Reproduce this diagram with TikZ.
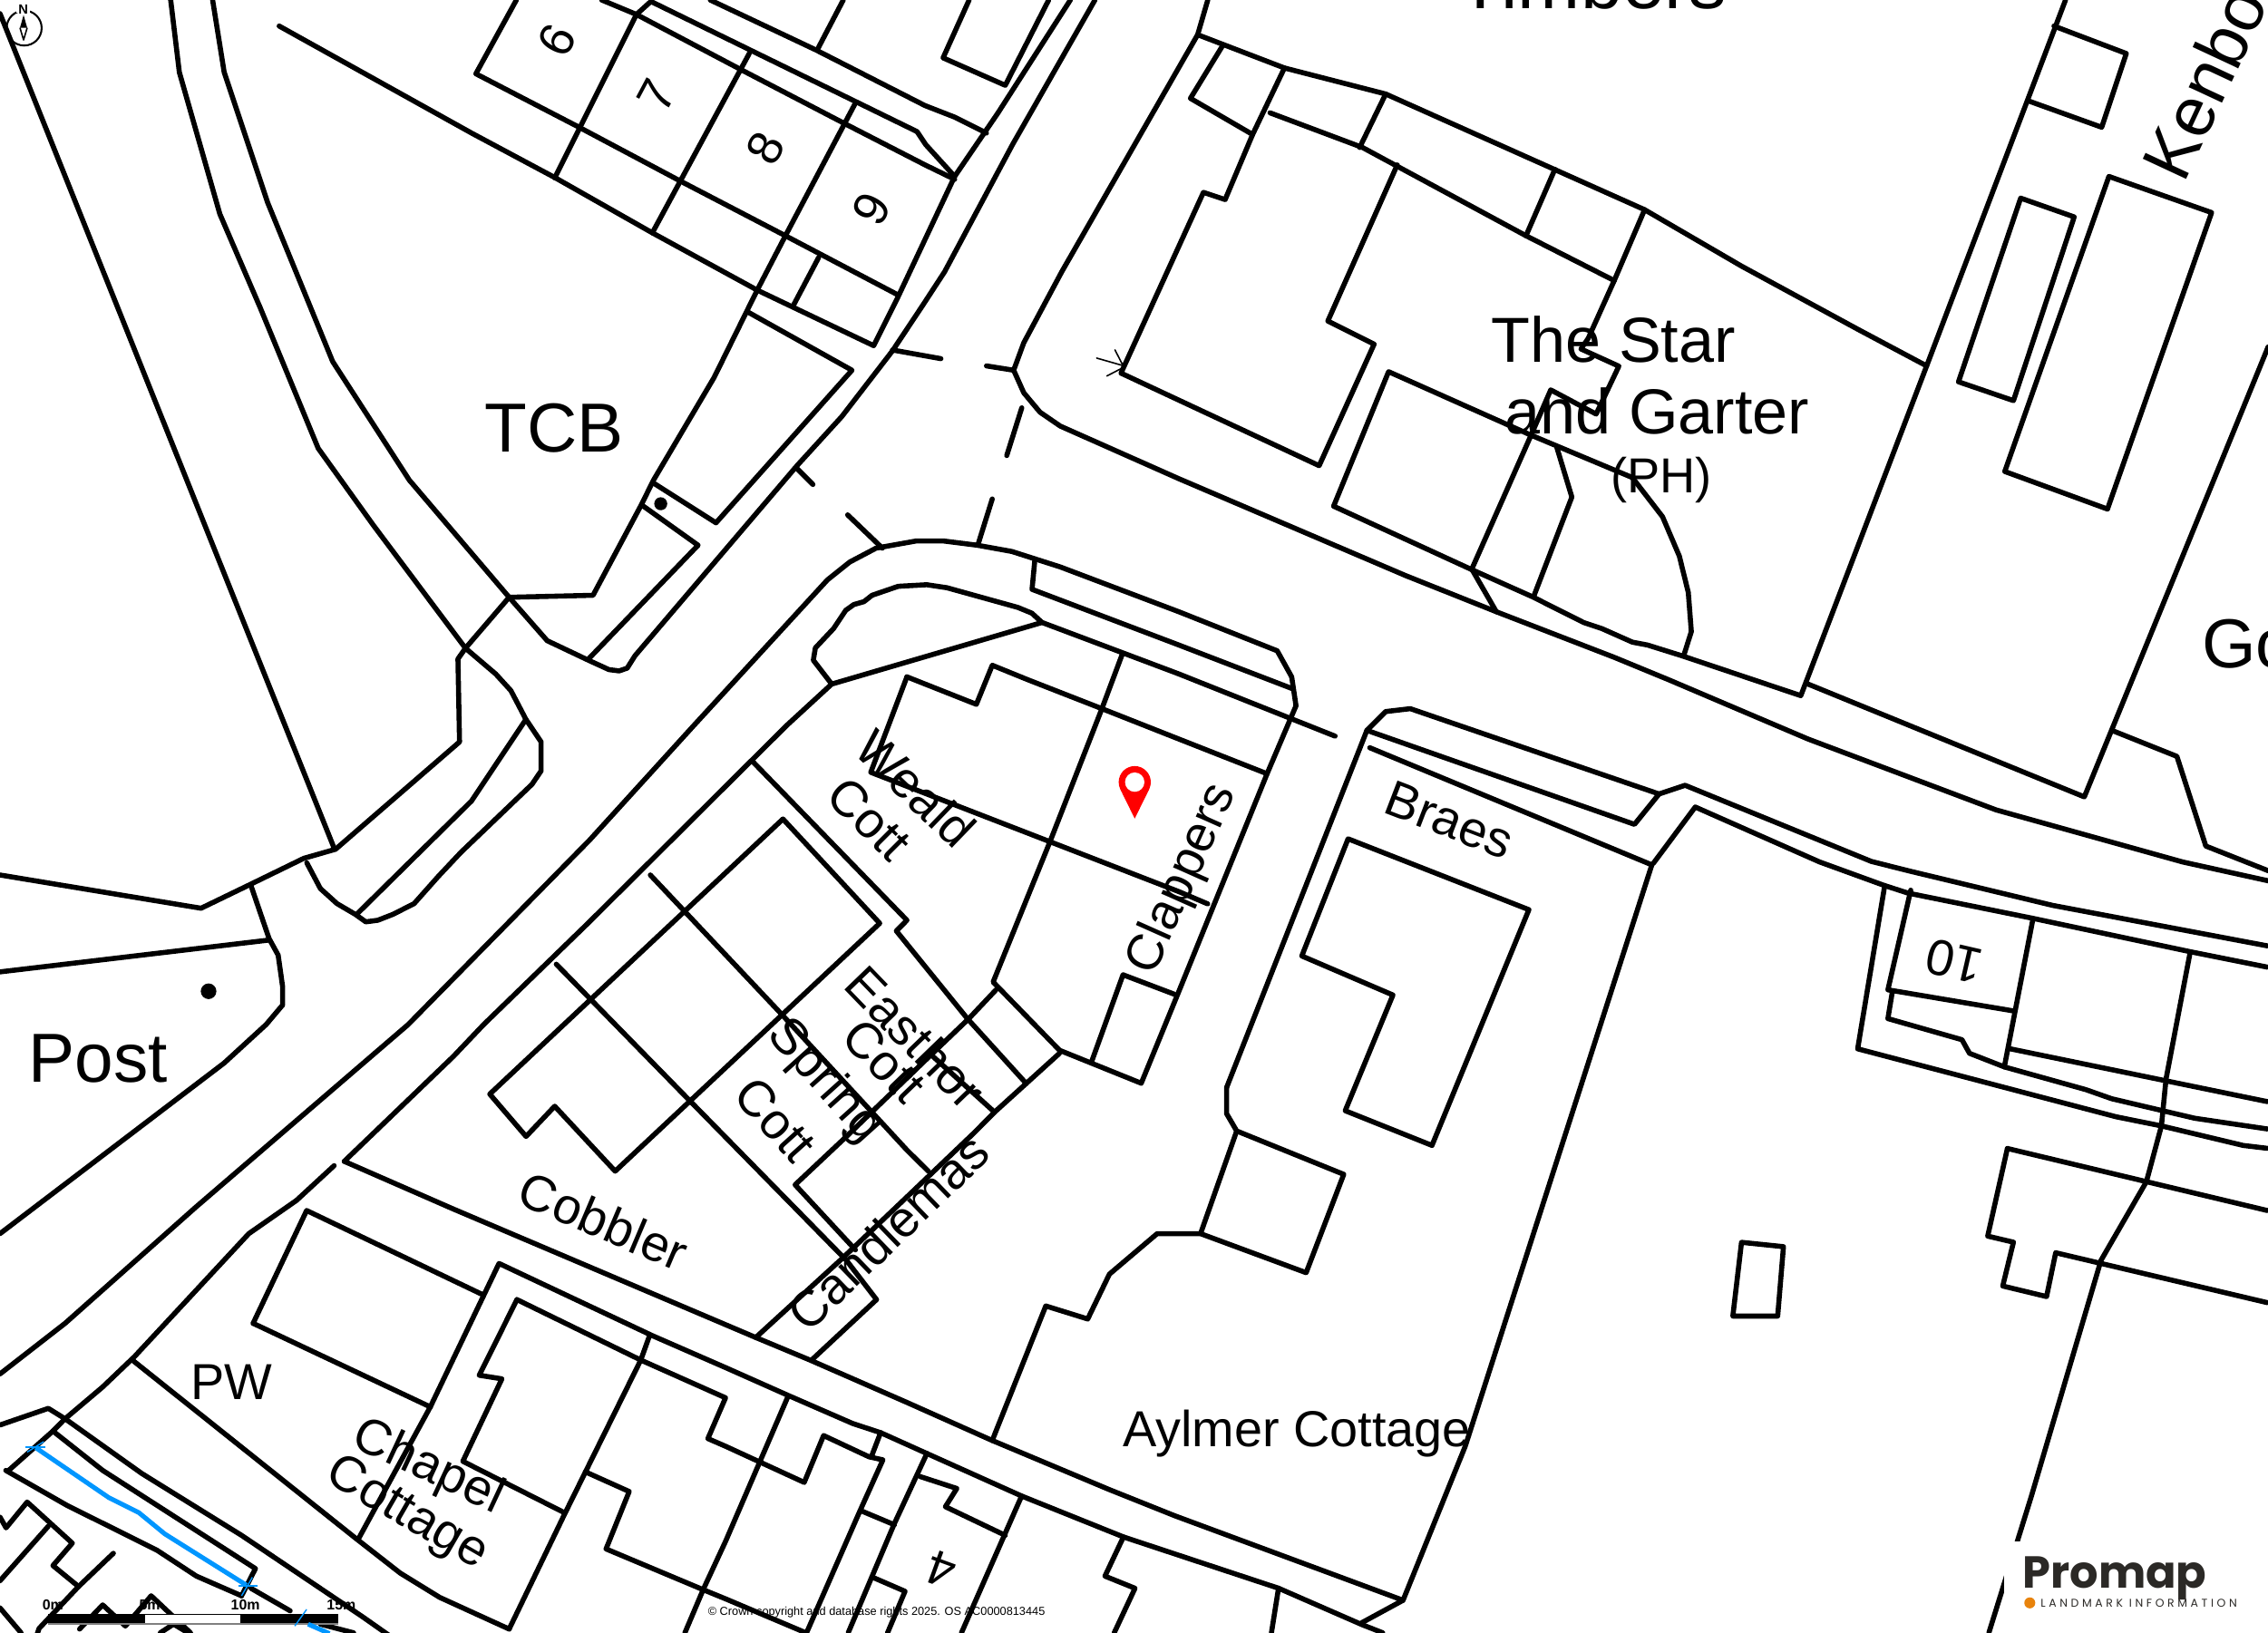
\documentclass[tikz,border=0pt]{standalone}
\usepackage{fontspec}
\setmainfont{Liberation Sans}
\newfontfamily\popfont{Poppins}
\newfontfamily\popspaced{Poppins}[LetterSpace=29]
\definecolor{waterblue}{HTML}{0096FF}
\definecolor{pinred}{HTML}{FF0000}
\definecolor{logoink}{HTML}{2B2926}
\definecolor{logoorange}{HTML}{E8830C}
\newcommand{\fsz}[1]{\fontsize{#1}{#1}\selectfont}
\tikzset{
  plan/.style={draw=black,line width=1.75pt,line join=round,line cap=round},
  thinplan/.style={draw=black,line width=0.5pt,line cap=round},
  water/.style={draw=waterblue,line width=1.6pt,line join=round},
  watertick/.style={draw=waterblue,line width=0.45pt},
  big/.style={inner sep=0pt,font=\fsz{24}},
  lab/.style={inner sep=0pt,font=\fsz{17.5}},
  num/.style={inner sep=0pt,font=\fsz{17}},
  scalelab/.style={inner sep=0pt,font=\bfseries\fsz{5}},
}
\begin{document}
\begin{tikzpicture}[x=0.5pt,y=-0.5pt]
\useasboundingbox (0,0) rectangle (1568,1129.1);
\clip (0,0) rectangle (1568,1129.1);
\fill[white] (0,0) rectangle (1568,1129.1);

% copyright sits under the plan lines
\node[inner sep=0pt,font=\fsz{4}] (copy) at (606,1115) {© Crown copyright and database rights 2025. OS AC0000813445};

% ---------- north-west: plots 6-9 ----------
\path[plan] (357,0) -- (329,51) -- (400.4,88) -- (470,125) -- (543,163) -- (621,204);
\path[plan] (383.5,123) -- (440,10) -- (450,1) -- (634,91) -- (640,100) -- (660,122);
\path[plan] (416,0) -- (440,10) -- (512,48) -- (585,86) -- (639.5,114) -- (660,124);
\path[plan] (518,37) -- (451,161);
\path[plan] (591,72) -- (543,163) -- (523.5,200.6) -- (493.7,261) -- (451.8,332) -- (443.4,349) -- (410,411.6) -- (352,413);
\path[plan] (193,18) -- (326,92) -- (384,123) -- (451,161) -- (523.5,200.6) -- (604,239) -- (621,205) -- (660,122) -- (690,78) -- (740,0);
\path[plan] (566,178) -- (548.6,211);
\path[plan] (517.5,216) -- (589,256) -- (495,361.5) -- (451.8,334);
\path[plan] (491,0) -- (564,34.5) -- (639.5,73) -- (660,81) -- (682,92);
\path[plan] (583,0) -- (565,34.5);
\path[plan] (670,0) -- (652,40) -- (695,59) -- (725,0);
% road edge to the crossing
\path[plan] (757,0) -- (700,100) -- (653,188) -- (638,211) -- (617,242.6) -- (582,288) -- (551,322) -- (439,453.4) -- (433.6,462) -- (428,463.9) -- (421,463) -- (407,456.6) -- (378.3,443) -- (352,413);
\path[plan] (444.8,350) -- (482.6,377) -- (407,455.5);
\fill (456.8,348.3) circle (4.5);
% crossing dashes
\path[plan] (617,242) -- (650.5,248);
\path[plan] (682,253) -- (700.8,256);
\path[plan] (706.4,282) -- (696,315);
\path[plan] (686,345) -- (676,377);
\path[plan] (551,324) -- (562,335);
\path[plan] (586,356) -- (610,379);

% ---------- west ----------
\path[plan] (0,9.4) -- (230.9,586.2);
\path[plan] (118,0) -- (124,50) -- (152,148) -- (180,213) -- (220,310) -- (258,363) -- (321.8,448.2);
\path[plan] (147,0) -- (155,50) -- (185,140) -- (230,250) -- (283,332) -- (352,413);
\path[plan] (0,605) -- (139,628) -- (173.5,611.3) -- (210,593.5) -- (232,587.2) -- (317.7,513) -- (316.6,455.6) -- (321.8,448.2) -- (352,413);
\path[plan] (321.8,448.2) -- (342.7,466) -- (353.2,477.5) -- (363.6,497.4) -- (374.1,513) -- (374.1,533) -- (367.8,542.3) -- (318.7,589.3) -- (303,606) -- (286.3,624.8) -- (271.7,632.2) -- (261.2,636.3) -- (252.9,637.4) -- (245.6,632.2) -- (233,624.8) -- (221.5,614.4) -- (212.1,596.6);
\path[plan] (363.6,497.4) -- (326,553.8) -- (246.6,632.2);
\path[plan] (173.5,612.3) -- (186,648.9) -- (192.3,660.4) -- (195.4,682.3) -- (195.4,694.9) -- (184,708.4) -- (155,735) -- (0,853);
\path[plan] (0,672) -- (186,650);
\fill (144.2,685.4) circle (5.4);

% ---------- main road south of crossing ----------
\path[plan] (0,950) -- (45,915) -- (135,835) -- (282.2,708.4) -- (407.5,581) -- (479.8,501.5) -- (572,401) -- (587.5,388.6) -- (605.7,379) -- (633.7,374) -- (651.9,374) -- (675.7,377) -- (699.5,381.3) -- (733,392) -- (815,423) -- (883,450) -- (893,468) -- (896,488) -- (876,535) -- (815,685.5) -- (789,749) -- (732.5,726.2) -- (686.6,679) -- (726.3,581) -- (761.8,490) -- (776,452);
\path[plan] (715.4,387.6) -- (713.5,407.5) -- (815,446) -- (893,476);
\path[plan] (238,803) -- (313.5,730.4) -- (334.4,708.4) -- (407.5,637.4) -- (544,501.5) -- (575,473) -- (720.4,430.4) -- (815,466) -- (923,509);
\path[plan] (575,473) -- (562.3,456.5) -- (563.7,448) -- (576.3,434.6) -- (584.7,422) -- (590.3,418) -- (597.3,416) -- (602.9,411.6) -- (621,405.4) -- (640.7,404.3) -- (654.7,406.4) -- (703.7,420) -- (713.4,424) -- (720.4,430.4);
\path[plan] (231,806) -- (205,830) -- (172,853) -- (93,938) -- (71,959) -- (45,981) -- (36.6,989.5) -- (6,1016.7);

% ---------- central plots ----------
\path[plan] (627,468) -- (602,534) -- (815,616.5) -- (835,625);
\path[plan] (627,468) -- (675,487) -- (686,460) -- (710.6,470) -- (761.8,490) -- (815,511) -- (876,535);
\path[plan] (754.5,734.6) -- (776.4,674) -- (812,687.5);
\path[plan] (520.4,526.6) -- (627,636.3) -- (619.7,643.7) -- (668.8,704.3) -- (709.5,749.2);
\path[plan] (688.6,684.4) -- (669.8,704.3) -- (643.7,729.3) -- (585.2,785.8) -- (549.7,819.2) -- (591.4,864.2);
\path[plan] (732.5,728.3) -- (687.6,769) -- (673,783.7) -- (627,827.6) -- (582,870.4) -- (522.5,924.8);
\path[plan] (643.7,729.3) -- (687.6,769);
\path[plan] (449.6,605) -- (540.2,701.1) -- (627,795.2) -- (642,810);
\path[plan] (338.6,756.5) -- (541.3,566.3) -- (608.2,638.4) -- (425.3,809.8) -- (383.5,764.9) -- (363.7,785.8) -- cycle;
\path[plan] (384.6,666.7) -- (476.5,760.7) -- (585.2,871.5) -- (606,898.6) -- (561.1,940.4);

% ---------- Braes and Aylmer Cottage ----------
\path[plan] (947,517) -- (1142,598);
\path[plan] (848,752) -- (945,505) -- (1130,570) -- (1147,549) -- (1165,543) -- (1293.7,595.6) -- (1319,602) -- (1419,626) -- (1567.5,654);
\path[plan] (945,505) -- (958,492) -- (975,490) -- (1147,549);
\path[plan] (1143,597) -- (1172,558) -- (1258,596) -- (1302,612) -- (1319,617.5) -- (1405.5,635) -- (1514,658) -- (1567.5,668.7);
\path[plan] (932,580) -- (1057,629) -- (990,792) -- (930,768) -- (963,688) -- (900,661) -- cycle;
\path[plan] (848,752) -- (848,770) -- (855,782) -- (929,812) -- (903,880) -- (830,853) -- (800,853) -- (767,881) -- (752,912) -- (723,903) -- (686,996);
\path[plan] (855,782) -- (830,853);
\path[plan] (1198,910) -- (1204,859) -- (1233,862) -- (1229,910) -- cycle;

% ---------- road north side of Cobbler and south-west ----------
\path[plan] (238,803) -- (313.5,836) -- (522.5,924.8) -- (560,940.4) -- (627,969.7) -- (685.5,995.8) -- (767,1030) -- (812,1048) -- (970,1106.5) -- (941.5,1122);
\path[plan] (970,1106.5) -- (1013,1000) -- (1142,598);
\path[plan] (297.5,972.8) -- (345,873.6) -- (451.4,923.7) -- (501.6,945.6) -- (546.4,965.5) -- (589.6,984.3) -- (608.8,990.6) -- (640.8,1005) -- (706.3,1034.4) -- (776.7,1062.7) -- (884,1098.2) -- (941.5,1123.3) -- (956,1129);
\path[plan] (297.5,972.8) -- (248,1063.7);
\path[plan] (91,940) -- (246,1063.7) -- (276.7,1087.7) -- (304,1104.5) -- (352,1126.4);
\path[plan] (175,915) -- (212,837) -- (334.4,895.5);
\path[plan] (175,915) -- (297.5,972.8);
\path[plan] (357.4,898.6) -- (331.3,950.9) -- (347,953.4) -- (320,1010.4) -- (390.3,1046);
\path[plan] (449,923.7) -- (443,940.4) -- (390.3,1047) -- (352,1126.4);
\path[plan] (357.4,898.6) -- (443,940.4) -- (501.6,966.5) -- (489.4,994.7) -- (501.6,1000) -- (556,1025) -- (569.4,992.6) -- (600.8,1007.3) -- (610.4,1009.4) -- (594.4,1045) -- (557.6,1129);
\path[plan] (404.7,1017.7) -- (435,1031.3) -- (419,1071) -- (486.2,1099.2) -- (501.6,1105.5) -- (556,1128.5);
\path[plan] (544.8,965.5) -- (501.6,1065.8) -- (486.2,1099) -- (473.5,1129);
\path[plan] (608.8,990.6) -- (602.4,1007.3);
\path[plan] (640.8,1005) -- (618.4,1053.3) -- (586.4,1129);
\path[plan] (596,1044.9) -- (618.4,1054.3);
\path[plan] (636,1020.9) -- (661.5,1029.2) -- (653.6,1041.8) -- (695,1061.6);
\path[plan] (706.3,1034.4) -- (664.7,1129);
\path[plan] (604,1090.9) -- (625.7,1100.3) -- (613.6,1129);
\path[plan] (776.7,1062.7) -- (763.9,1089.8) -- (784.7,1098.2) -- (770.3,1129);
\path[plan] (883.9,1098.2) -- (879,1129);

% ---------- stream corner, far south-west ----------
\path[plan] (0,985.3) -- (33.4,973.8) -- (45,981) -- (98,1018.8) -- (167,1061.6) -- (250.8,1118) -- (275,1135);
\path[plan] (36.6,989.5) -- (71,1016.7) -- (176.6,1084.6) -- (167,1103.4);
\path[plan] (4,1016.7) -- (46,1040.7) -- (108.7,1072) -- (135.8,1089.8) -- (167,1103.4);
\path[plan] (173.5,1098.2) -- (200.6,1113.8);
\path[plan] (0,1049) -- (4.2,1056.4) -- (18.8,1038.6) -- (50,1067) -- (36.6,1082.5) -- (54.3,1097);
\path[plan] (33.4,1055.3) -- (0,1093);
\path[plan] (78.4,1074) -- (54.3,1097) -- (27,1126) -- (24,1135);
\path[plan] (0,1111.8) -- (14.6,1129);
\path[plan] (55,1126.4) -- (71,1109.7) -- (86.7,1124.3) -- (104.5,1103.4) -- (131.7,1129);
\path[plan] (120,1123) -- (110.8,1129);
\path[plan] (120,1123) -- (130,1129);
\path[plan] (221.5,1123) -- (244.5,1129);
\path[water] (24.7,1001) -- (75.2,1035.5) -- (96,1045.9) -- (113.9,1060.6) -- (170.3,1096);
\path[watertick] (17.8,1000.6) -- (31.3,1000.6);
\path[watertick] (18.8,1004) -- (30.3,996.8);
\path[watertick] (164.7,1096.5) -- (178,1096.5);
\path[watertick] (167,1103.4) -- (174.5,1090.6);

% ---------- The Star and Garter block ----------
\path[plan] (835,0) -- (828,24) -- (734,188) -- (707.8,237) -- (700.8,256) -- (707.8,271.6) -- (719,285) -- (733,294.6) -- (815,331) -- (971.8,398) -- (1034.5,423) -- (1116,454.5) -- (1153.6,470) -- (1250,511) -- (1380,560) -- (1509,596) -- (1568,609);
\path[plan] (828,24) -- (888,47) -- (958,65) -- (1137,145) -- (1204,184) -- (1285,228) -- (1332,253);
\path[plan] (1428,0) -- (1332,253) -- (1245,481) -- (1163,453.5) -- (1139,446) -- (1128.5,444) -- (1107.6,434.7) -- (1095,430.5) -- (1059.6,412.7) -- (1017.8,394) -- (922,350) -- (960,257) -- (1058.5,300.9) -- (1128.5,330.2) -- (1149.4,357.3) -- (1161,384.5) -- (1167.2,409.6) -- (1169.3,436.7) -- (1164,453.5);
\path[plan] (1017.8,394) -- (1034.5,423);
\path[plan] (845,32) -- (823,68) -- (866,93) -- (847,138) -- (832,133) -- (775,258) -- (912,322) -- (950,238) -- (918,222) -- (966,114);
\path[plan] (888,47) -- (866,93);
\path[plan] (878,78) -- (942,102) -- (1055,163) -- (1116,194);
\path[plan] (958,65) -- (940,102);
\path[plan] (1075,117) -- (1055,163);
\path[plan] (1137,145) -- (1116,194) -- (1098,234) -- (1093,241.3) -- (1119.2,253.2) -- (1103.5,286.3) -- (1072.1,269.6) -- (1058.5,300.9) -- (1017.8,392.9);
\path[plan] (1076.3,309.3) -- (1086.7,343.7) -- (1060.6,411.7);
\path[thinplan] (776.4,252.8) -- (770.8,241.9);
\path[thinplan] (776.4,252.8) -- (758.2,247.6);
\path[thinplan] (775,254.9) -- (765.2,260);

% ---------- north-east ----------
\path[plan] (1250,473) -- (1441,551) -- (1568,240);
\path[plan] (1420,18) -- (1470,37) -- (1453,88) -- (1403,70);
\path[plan] (1397,137) -- (1434,150) -- (1392,277) -- (1354,264) -- cycle;
\path[plan] (1458,122) -- (1529,147) -- (1457,352) -- (1386,326) -- cycle;
\path[plan] (1460,505) -- (1505,523) -- (1525,585) -- (1568,602);

% ---------- east ----------
\path[plan] (1303,612.3) -- (1284.3,725.2) -- (1463,772.2) -- (1494.3,778.5) -- (1550.8,792) -- (1567.5,794);
\path[plan] (1321,615.5) -- (1305.2,684.4) -- (1392,699);
\path[plan] (1308.3,685.5) -- (1305.2,704.3) -- (1356.4,718.9) -- (1361.6,728.3) -- (1385.7,737.7) -- (1442,753.4) -- (1459.9,759.7) -- (1517.3,773.2) -- (1567.5,780.6);
\path[plan] (1405.5,635.3) -- (1385.7,737.7);
\path[plan] (1389.8,725.2) -- (1496.4,747.1) -- (1567.5,761.7);
\path[plan] (1514.2,658.3) -- (1497.5,746) -- (1494.3,778.5) -- (1483.9,817.1) -- (1452.5,871.5) -- (1404.4,1034.5) -- (1375,1129);
\path[plan] (1387.8,794.1) -- (1567.5,837);
\path[plan] (1387.8,794.1) -- (1374.2,854.7) -- (1392,858.9) -- (1384.6,889.2) -- (1414.9,896.5) -- (1421.2,866.2) -- (1567.5,900.7);

% ---------- labels ----------
\node[inner sep=0pt,font=\fsz{26},anchor=base] (timbers) at (1101,6) {Timbers};
\node[big,rotate=65,anchor=base west] (kenbo) at (1510,128) {Kenbo};
\node[big,anchor=base west] (go) at (1522,462) {Go};
\node[big] (tcb) at (383,296) {TCB};
\node[big] (post) at (68,732) {Post};
\node[inner sep=0pt,font=\fsz{22},anchor=base] (star) at (1115.5,250.3) {The Star};
\node[inner sep=0pt,font=\fsz{22},anchor=base] (garter) at (1145.7,300) {and Garter};
\node[inner sep=0pt,font=\fsz{17},anchor=base] (ph) at (1148.4,340.6) {(PH)};
\node[lab,anchor=base] (pw) at (160,967.6) {PW};
\node[lab,anchor=base] (aylmer) at (896.5,1000) {Aylmer Cottage};
\node[lab,rotate=-44] (weald) at (633,545) {Weald};
\node[lab,rotate=-45] (cott1) at (601,566) {Cott};
\node[lab,rotate=-46] (easthor) at (633,717) {Easthor};
\node[lab,rotate=-46] (cott2) at (611.3,733.5) {Cott};
\node[lab,rotate=-48] (spring) at (570,748) {Spring};
\node[lab,rotate=-48] (cott3) at (536,774) {Cott};
\node[lab,rotate=-23] (cobbler) at (417.4,844.3) {Cobbler};
\node[lab,rotate=44] (candlemas) at (614,852) {Candlemas};
\node[lab,rotate=66] (clappers) at (818,608) {Clappers};
\node[lab,rotate=-21] (braes) at (1002,567) {Braes};
\node[lab,rotate=-25] (chapel) at (296,1015) {Chapel};
\node[lab,rotate=-30] (cottage) at (281,1047) {Cottage};
\node[num,rotate=62] (n6) at (385,28) {6};
\node[num,rotate=62] (n7) at (454,66) {7};
\node[num,rotate=62] (n8) at (529.3,102.4) {8};
\node[num,rotate=62] (n9) at (602.3,144.2) {9};
\node[lab,rotate=167] (n10) at (1351,664.6) {10};
\node[num,rotate=160] (n4) at (651,1085) {4};

% ---------- site pin ----------
\fill[pinred] (784.5,566) -- (774.5,545.7) -- (794.5,545.7) -- cycle;
\fill[pinred] (784.5,540.8) circle (11.1);
\fill[white] (784.5,540.8) circle (6.7);

% ---------- north point ----------
\draw[line width=0.65pt] (16.7,19.4) circle (12.1);
\fill[white] (11.5,1) rectangle (21,9);
\node[inner sep=0pt,font=\bfseries\fsz{4.6}] (north) at (16.1,6.3) {N};
\fill (16.3,10.4) -- (18.8,19.2) -- (13.8,19.2) -- cycle;
\draw[line width=0.5pt,line join=round] (18.8,19.2) -- (16.3,27.6) -- (13.8,19.2);

% ---------- scale bar ----------
\fill[black] (33.4,1116) rectangle (100.3,1122.5);
\fill[white] (100.3,1116) rectangle (166,1122.5);
\draw[black,line width=0.3pt] (100.3,1116.2) -- (166,1116.2);
\fill[black] (166,1116) rectangle (233.6,1122.5);
\draw[gray,line width=0.5pt] (33.4,1122.9) -- (233.6,1122.9);
\path[water] (213,1123) -- (227.8,1129.5);
\path[watertick] (203.8,1124.3) -- (212,1112.8);
\node[scalelab] (s0) at (36.6,1110) {0m};
\node[scalelab] (s5) at (103.5,1110) {5m};
\node[scalelab] (s10) at (169.7,1110) {10m};
\node[scalelab] (s15) at (236,1110) {15m};

% ---------- logo ----------
\fill[white] (1385.6,1065.8) rectangle (1568,1129.1);
\node[inner sep=0pt,anchor=base west,text=logoink,font=\popfont\bfseries\fsz{15.5}] (promap) at (1398,1098.3) {Promap};
\fill[logoorange] (1403.3,1108.3) circle (3.8);
\node[inner sep=0pt,anchor=base west,text=logoink,font=\popspaced\fsz{3.9}] (landmark) at (1410.4,1111) {LANDMARK INFORMATION};
\end{tikzpicture}
\end{document}
